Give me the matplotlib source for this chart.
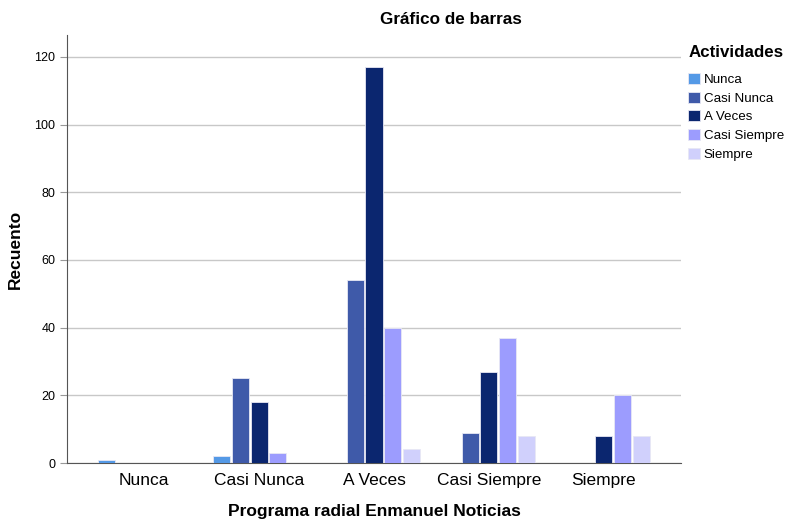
import matplotlib.pyplot as plt
import numpy as np

plt.rcParams["font.family"] = ["Liberation Sans", "DejaVu Sans"]

categories = ["Nunca", "Casi Nunca", "A Veces", "Casi Siempre", "Siempre"]
series = ["Nunca", "Casi Nunca", "A Veces", "Casi Siempre", "Siempre"]
counts = {
    "Nunca":        [1, 2, 0, 0, 0],
    "Casi Nunca":   [0, 25, 54, 9, 0],
    "A Veces":      [0, 18, 117, 27, 8],
    "Casi Siempre": [0, 3, 40, 37, 20],
    "Siempre":      [0, 0, 4, 8, 8],
}
colors = ["#5499e6", "#3f5aa9", "#0b266f", "#9c9cfe", "#d0d0fc"]

fig = plt.figure(figsize=(7.87, 5.24), dpi=100)
ax = fig.add_axes([67 / 787, 61 / 524, 614 / 787, 428 / 524])

x = np.arange(len(categories))
step, width = 0.165, 0.148
for i, (name, col) in enumerate(zip(series, colors)):
    ax.bar(x + (i - 2) * step, counts[name], width, color=col, edgecolor="#e8e8f4",
           linewidth=0.6, label=name, zorder=3)

ax.set_xlim(-0.67, 4.67)
ax.set_ylim(0, 126.5)
ax.set_yticks(range(0, 121, 20))
ax.set_xticks(x)
ax.set_xticklabels(categories, fontsize=12.5)
ax.tick_params(axis="x", length=0, pad=7)
ax.tick_params(axis="y", labelsize=9, length=5, color="#999999")
ax.grid(axis="y", color="#c8c8c8", linewidth=1, zorder=0)
for s in ["top", "right"]:
    ax.spines[s].set_visible(False)
for s in ["left", "bottom"]:
    ax.spines[s].set_color("#555555")

ax.set_ylabel("Recuento", fontsize=12.5, fontweight="bold", labelpad=8)
ax.set_xlabel("Programa radial Enmanuel Noticias", fontsize=12.5, fontweight="bold", labelpad=12)
fig.text(451 / 787, 1 - 20 / 524, "Gráfico de barras", ha="center", va="center",
         fontsize=12.3, fontweight="bold")

leg = ax.legend(loc="upper left", bbox_to_anchor=(1.0, 0.993), frameon=False,
                title="Actividades", fontsize=9.6, handlelength=0.9, handleheight=0.9,
                handletextpad=0.25, labelspacing=0.42, borderaxespad=0.15)
leg.get_title().set_fontweight("bold")
leg.get_title().set_fontsize(12.2)
leg._legend_box.align = "left"
leg._legend_box.sep = 9

fig.savefig("out.png", dpi=100)
